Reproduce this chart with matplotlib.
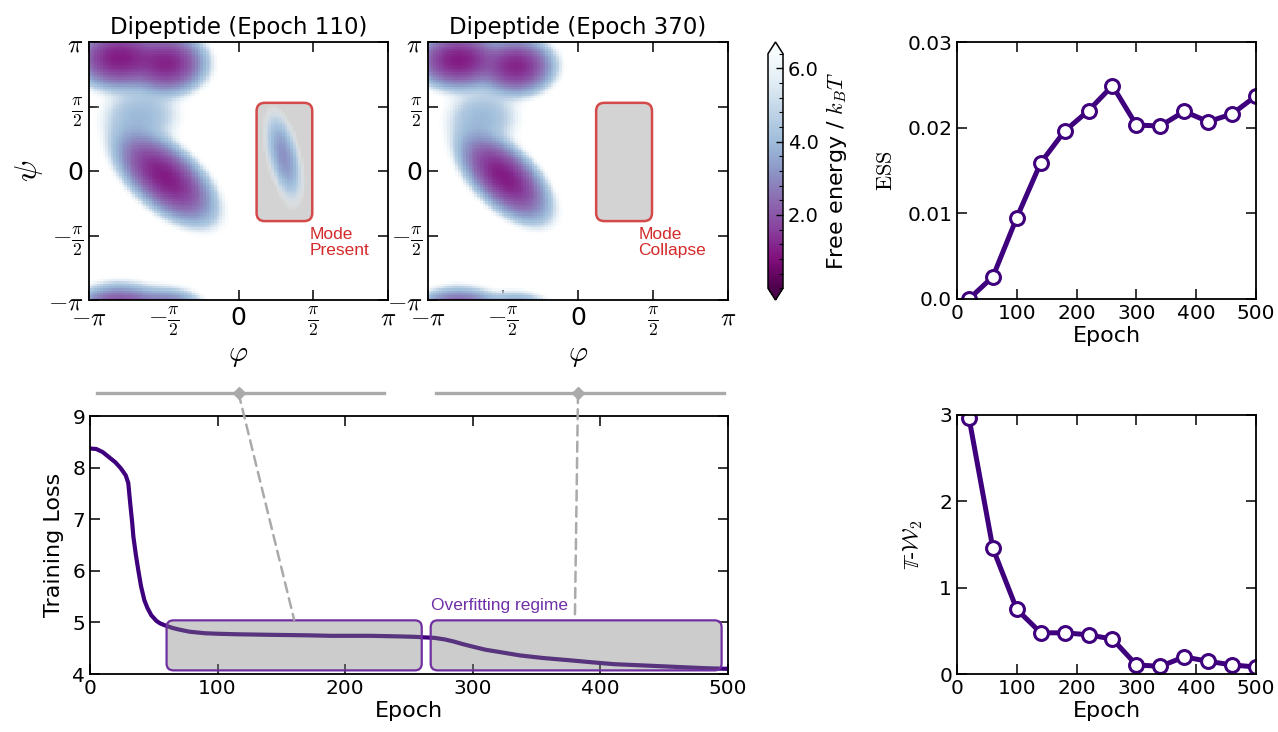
import numpy as np
import matplotlib
matplotlib.use("Agg")
import matplotlib.pyplot as plt
from matplotlib.patches import FancyBboxPatch, ConnectionPatch
from matplotlib.lines import Line2D
from matplotlib.ticker import MultipleLocator
from matplotlib.colors import Normalize
from matplotlib.cm import ScalarMappable

plt.rcParams['font.family'] = ['DejaVu Sans']
plt.rcParams['mathtext.fontset'] = 'cm'

# ---------------- data ----------------
# Ramachandran free-energy landscapes, described by the modes
# columns: phi centre, psi centre, sd phi, sd psi, correlation, weight
modes_ep110_phi = [-2.50, -1.50, -1.55, -2.05, 0.95, 1.00]
modes_ep110_psi = [2.75, 2.62, -0.15, 1.35, 0.35, -1.90]
modes_ep110_sdphi = [0.40, 0.34, 0.42, 0.45, 0.18, 0.14]
modes_ep110_sdpsi = [0.30, 0.30, 0.45, 0.38, 0.50, 0.70]
modes_ep110_rho = [0.0, 0.0, -0.6, 0.0, -0.5, 0.0]
modes_ep110_w = [1.00, 0.85, 1.00, 0.05, 0.12, 0.005]

modes_ep370_phi = [-2.50, -1.30, -1.55, -2.00]
modes_ep370_psi = [2.70, 2.55, -0.15, 1.30]
modes_ep370_sdphi = [0.38, 0.33, 0.38, 0.42]
modes_ep370_sdpsi = [0.28, 0.28, 0.43, 0.38]
modes_ep370_rho = [0.0, 0.0, -0.6, 0.0]
modes_ep370_w = [1.00, 0.85, 1.00, 0.05]

n_bins = 110
F_min = 1.0
F_fade = 4.6
F_cut = 6.4

ess_epochs = [20, 60, 100, 140, 180, 220, 260, 300, 340, 380, 420, 460, 500]
ess_values = [0.0000, 0.0026, 0.0095, 0.0159, 0.0196, 0.0220, 0.0249,
              0.0203, 0.0202, 0.0219, 0.0207, 0.0216, 0.0237]
tw2_values = [2.97, 1.455, 0.749, 0.477, 0.477, 0.454, 0.404,
              0.105, 0.089, 0.198, 0.147, 0.105, 0.081]

loss_epochs = [0, 5, 10, 15, 20, 24, 28, 30, 31.5, 33, 34, 36, 37.8, 40, 42.6, 45, 48,
               52, 55, 59, 65, 70, 78, 90, 100, 115, 140, 170, 189, 220, 240, 255,
               262, 270, 278, 285, 292, 300, 310, 320, 337, 355, 374, 392, 411,
               430, 448, 466, 485, 500]
loss_values = [8.37, 8.36, 8.30, 8.20, 8.10, 7.99, 7.85, 7.70, 7.31, 6.95, 6.66,
               6.30, 6.02, 5.70, 5.43, 5.28, 5.14, 5.03, 4.98, 4.94, 4.89, 4.86,
               4.82, 4.79, 4.78, 4.77, 4.76, 4.75, 4.74, 4.74, 4.73, 4.72, 4.71,
               4.70, 4.67, 4.63, 4.58, 4.53, 4.47, 4.43, 4.36, 4.31, 4.27, 4.23,
               4.19, 4.17, 4.15, 4.13, 4.11, 4.10]

regime_boxes_start = [60, 267]
regime_boxes_end = [260, 495]
regime_box_low = 4.07
regime_box_high = 5.04

mode_box_phi = [0.38, 1.55]
mode_box_psi = [-1.22, 1.66]

snap_target_epochs = [160, 380]
snap_target_loss = 5.05

# ---------------- helpers ----------------
W, H = 1278, 732
fig = plt.figure(figsize=(W / 100, H / 100), dpi=100)


def px_axes(x0, y0, x1, y1):
    return fig.add_axes([x0 / W, 1 - y1 / H, (x1 - x0) / W, (y1 - y0) / H])


def wrap(d):
    return (d + np.pi) % (2 * np.pi) - np.pi


def free_energy(mphi, mpsi, sphi, spsi, rho, w):
    edges = np.linspace(-np.pi, np.pi, n_bins + 1)
    c = 0.5 * (edges[:-1] + edges[1:])
    PHI, PSI = np.meshgrid(c, c)
    p = np.zeros_like(PHI)
    for a, b, sa, sb, r, ww in zip(mphi, mpsi, sphi, spsi, rho, w):
        dx = (PHI - a) / sa
        dy = wrap(PSI - b) / sb
        q = (dx ** 2 - 2 * r * dx * dy + dy ** 2) / (1 - r ** 2)
        p += ww * np.exp(-0.5 * q)
    F = -np.log(p / p.max()) + F_min
    return edges, F


purple = '#3f007d'
tick_kw = dict(direction='in', top=True, right=True, length=7, width=1.1)
cmap = plt.get_cmap('BuPu_r')
norm = Normalize(vmin=0, vmax=6.4)

pi_ticks = [-np.pi, -np.pi / 2, 0, np.pi / 2, np.pi]
pi_labels = [r'$-\pi$', r'$-\frac{\pi}{2}$', '0', r'$\frac{\pi}{2}$', r'$\pi$']

ax1 = px_axes(89, 42, 388, 300)
ax2 = px_axes(428, 42, 728, 300)

datasets = [
    (ax1, (modes_ep110_phi, modes_ep110_psi, modes_ep110_sdphi, modes_ep110_sdpsi,
           modes_ep110_rho, modes_ep110_w), 'Dipeptide (Epoch 110)', 'Mode\nPresent', 1.50),
    (ax2, (modes_ep370_phi, modes_ep370_psi, modes_ep370_sdphi, modes_ep370_sdpsi,
           modes_ep370_rho, modes_ep370_w), 'Dipeptide (Epoch 370)', 'Mode\nCollapse', 1.26),
]
for ax, modes, title, note, note_x in datasets:
    edges, F = free_energy(*modes)
    box = FancyBboxPatch((mode_box_phi[0], mode_box_psi[0]),
                         mode_box_phi[1] - mode_box_phi[0],
                         mode_box_psi[1] - mode_box_psi[0],
                         boxstyle='round,pad=0,rounding_size=0.17',
                         mutation_aspect=1.16, facecolor='#d3d3d3',
                         edgecolor='#d44a4a', linewidth=1.8, zorder=1)
    ax.add_patch(box)
    rgba = cmap(norm(F))
    alpha = np.clip((F_cut - F) / (F_cut - F_fade), 0, 1)
    rgba[..., 3] = alpha
    ax.imshow(rgba, extent=(-np.pi, np.pi, -np.pi, np.pi), origin='lower',
              interpolation='nearest', aspect='auto', zorder=2)
    ax.set_xlim(-np.pi, np.pi)
    ax.set_ylim(-np.pi, np.pi)
    ax.set_xticks(pi_ticks)
    ax.set_xticklabels(pi_labels)
    ax.set_yticks(pi_ticks)
    ax.set_yticklabels(pi_labels)
    ax.tick_params(labelsize=18, pad=4, **tick_kw)
    ax.set_title(title, fontsize=16.5, pad=6)
    ax.set_xlabel(r'$\varphi$', fontsize=21, labelpad=2)
    ax.text(note_x, -1.36, note, color='#d42a2a', fontsize=12.5, ha='left', va='top',
            family=['Liberation Sans'], linespacing=1.1, zorder=5)
    for s in ax.spines.values():
        s.set_linewidth(1.3)
        s.set_zorder(6)
ax1.set_ylabel(r'$\psi$', fontsize=23, labelpad=2)

cax = px_axes(768, 42, 783, 300)
sm = ScalarMappable(norm=norm, cmap=cmap)
cb = fig.colorbar(sm, cax=cax, extend='both', extendfrac=0.05)
cb.set_ticks([2.0, 4.0, 6.0])
cb.set_ticklabels(['2.0', '4.0', '6.0'])
cb.ax.yaxis.set_minor_locator(MultipleLocator(0.4))
cb.ax.tick_params(labelsize=14, direction='in', length=5, width=1)
cb.ax.tick_params(which='minor', direction='in', length=3, width=0.8)
cb.set_label(r'Free energy / $k_BT$', fontsize=16, labelpad=4)
cb.outline.set_linewidth(1.1)

# ESS
ax3 = px_axes(957, 42, 1256, 299)
ax3.plot(ess_epochs, ess_values, color=purple, lw=3.6, marker='o', ms=10,
         mfc='white', mec=purple, mew=2.2)
ax3.set_xlim(0, 500)
ax3.set_ylim(0, 0.03)
ax3.set_xticks([0, 100, 200, 300, 400, 500])
ax3.set_yticks([0.0, 0.01, 0.02, 0.03])
ax3.set_yticklabels(['0.0', '0.01', '0.02', '0.03'])
ax3.tick_params(labelsize=14.5, **tick_kw)
ax3.set_xlabel('Epoch', fontsize=16, labelpad=2)
ax3.set_ylabel(r'$\mathrm{ESS}$', fontsize=16, labelpad=8)

# T-W2
ax4 = px_axes(957, 415, 1256, 674)
ax4.plot(ess_epochs, tw2_values, color=purple, lw=3.6, marker='o', ms=10,
         mfc='white', mec=purple, mew=2.2)
ax4.set_xlim(0, 500)
ax4.set_ylim(0, 3)
ax4.set_xticks([0, 100, 200, 300, 400, 500])
ax4.set_yticks([0, 1, 2, 3])
ax4.tick_params(labelsize=14.5, **tick_kw)
ax4.set_xlabel('Epoch', fontsize=16, labelpad=2)
ax4.set_ylabel(r'$\mathbb{T}$-$\mathcal{W}_2$', fontsize=16, labelpad=10)

# Loss
ax5 = px_axes(90, 416, 728, 674)
ax5.plot(loss_epochs, loss_values, color=purple, lw=3, zorder=2)
for x0, x1 in zip(regime_boxes_start, regime_boxes_end):
    rb = FancyBboxPatch((x0, regime_box_low), x1 - x0, regime_box_high - regime_box_low,
                        boxstyle='round,pad=0,rounding_size=5.5',
                        mutation_aspect=0.0247, facecolor=(0.5, 0.5, 0.5, 0.4),
                        edgecolor='#7030a0', linewidth=1.6, zorder=3)
    ax5.add_patch(rb)
ax5.text(regime_boxes_start[1], 5.32, 'Overfitting regime', color='#7030a8',
         fontsize=12.5, family=['Liberation Sans'], ha='left', va='center')
ax5.set_xlim(0, 500)
ax5.set_ylim(4, 9)
ax5.set_xticks([0, 100, 200, 300, 400, 500])
ax5.set_yticks([4, 5, 6, 7, 8, 9])
ax5.tick_params(labelsize=14.5, **tick_kw)
ax5.set_xlabel('Epoch', fontsize=16, labelpad=2)
ax5.set_ylabel('Training Loss', fontsize=16, labelpad=6)

for ax in (ax3, ax4, ax5):
    for s in ax.spines.values():
        s.set_linewidth(1.3)

# connectors from the snapshots to the loss curve
gray = '#aaaaaa'
y_bar = 1 - 393 / H
for ax, ep in zip((ax1, ax2), snap_target_epochs):
    b = ax.get_position()
    fig.add_artist(Line2D([b.x0 + 8 / W, b.x1 - 4 / W], [y_bar, y_bar], color=gray,
                          lw=2.4, transform=fig.transFigure))
    xc = 0.5 * (b.x0 + b.x1)
    fig.add_artist(Line2D([xc], [y_bar], marker='D', ms=6, color=gray, mec=gray,
                          transform=fig.transFigure))
    con = ConnectionPatch(xyA=(xc, y_bar), coordsA=fig.transFigure,
                          xyB=(ep, snap_target_loss), coordsB=ax5.transData,
                          color=gray, lw=1.8, ls=(0, (4, 2.5)))
    fig.add_artist(con)

fig.savefig('out.png', dpi=100)
